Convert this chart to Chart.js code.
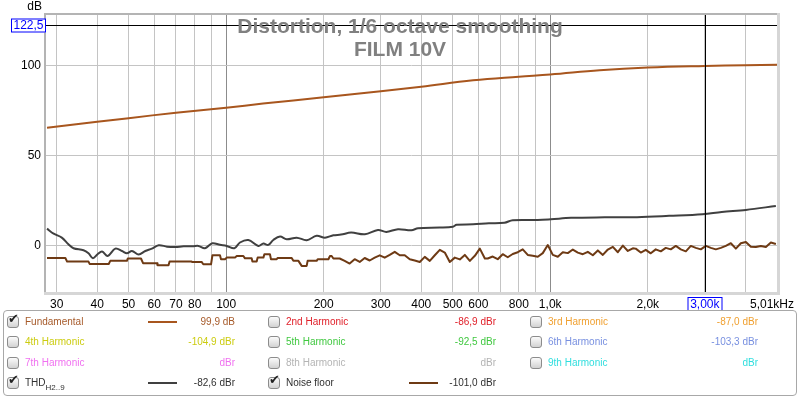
<!DOCTYPE html>
<html>
<head>
<meta charset="utf-8">
<script src="https://cdn.jsdelivr.net/npm/chart.js@4.4.1/dist/chart.umd.min.js"></script>
<style>
  body { margin: 0; background: #fff; font-family: "Liberation Sans", Arial, sans-serif; }
  #wrap { position: relative; width: 800px; height: 398px; overflow: hidden; }
  #chart { position: absolute; left: 0; top: 0; }
  #legend { position: absolute; left: 3px; top: 310px; width: 794px; height: 86px; border: 1px solid #a8a8a8; border-radius: 4px; box-sizing: border-box; background: #fff; }
  .item { position: absolute; width: 240px; height: 12px; font-size: 10px; line-height: 12px; white-space: nowrap; }
  .box { position: absolute; left: 0; top: 0; width: 10px; height: 10px; border: 1px solid #8c8c8c; border-radius: 3px; background: linear-gradient(#fbfbfb, #d2d2d2); }
  .box span { position: absolute; left: 0px; top: -4px; font-size: 13px; font-weight: bold; color: #222; font-family: "DejaVu Sans", sans-serif; }
  .name { position: absolute; left: 18px; top: 0; }
  .name sub { font-size: 8px; vertical-align: -4px; }
  .sample { position: absolute; left: 141px; top: 5px; width: 29px; height: 2px; }
  .val { position: absolute; left: 100px; width: 128px; top: 0; text-align: right; }
</style>
</head>
<body>
<div id="wrap">
  <canvas id="chart" width="800" height="311"></canvas>
  <div id="legend"></div>
</div>
<script>
// Title and cursor
const titleLines = ['Distortion, 1/6 octave smoothing', 'FILM 10V'];
const cursorFreq = 3000;
const cursorDb = 122.5;

// Axis ticks
const xTicks = [30, 40, 50, 60, 70, 80, 90, 100, 200, 300, 400, 500, 600, 700, 800, 900, 1000, 2000, 3000, 4000, 5010];
const xTickLabels = ['30', '40', '50', '60', '70', '80', '', '100', '200', '300', '400', '500', '600', '', '800', '', '1,0k', '2,0k', '3,00k', '', ''];
const yTicks = [0, 50, 100];

// Fundamental (dB)
const fundFreq = [28, 40, 50, 70, 100, 130, 200, 300, 400, 578, 800, 1000, 1421, 2000, 3000, 4000, 5010];
const fundDb = [65.7, 69.0, 71.0, 74.0, 76.8, 79.1, 82.6, 86.0, 88.5, 92.0, 94.0, 95.2, 97.6, 99.1, 100.0, 100.4, 100.6];

// THD H2..9
const thdFreq = [28, 29.35, 31.1, 32.6, 33.8, 36.3, 37.6, 38.8, 40.1, 41.4, 43.1, 45.5, 47.7, 49.4, 51.2, 53.7, 56.3, 59.0, 61.9, 65.7, 69.7, 73.9, 79.0,
  82.1, 86.0, 90.6, 95.7, 100.4, 106, 110.3, 117.1, 125.7, 130.3, 134.9, 139.8, 146.6, 153.7, 165.1, 177.2, 190.2, 201.8, 214.2, 226.2,
  243, 268, 294, 312, 339, 373, 391, 456, 501, 514, 578, 647, 722, 766, 915, 1005, 1160, 1472, 1853, 2327, 2953, 3383, 4015, 4970];
const thdDb = [9.6, 6.8, 4.6, 0.9, -1.3, -2.4, -4.1, -6.8, -4.6, -3.1, -5.6, -1.5, -2.8, -4.1, -2.8, -4.8, -2.8, -1.5, 0.4, -0.4, -0.6, -0.2, -0.2,
  0, -1.3, 1.5, 0.6, 0, -1.3, 1.9, 3.3, 0, 1.3, 0.6, 3.3, 5.2, 3.7, 4.6, 3.2, 5.6, 4.6, 5.9, 6.3,
  7.4, 6.5, 8.9, 7.8, 9.3, 8.7, 9.8, 10.2, 10.7, 11.7, 12.0, 12.6, 12.9, 14.3, 14.4, 14.8, 15.6, 15.9, 16.0, 16.7, 17.6, 18.9, 20.0, 22.2];

// Noise floor
const noiseFreq = [28, 31.9, 32.3, 37.6, 37.9, 43.4, 43.9, 49.4, 49.7, 54.6, 55.4, 61.2, 61.4, 66.4, 66.9, 78.2,
  78.5, 84.0, 85.0, 89.8, 90.7, 95.7, 96.4, 99.2, 100.4, 106.5, 107.8, 113.0, 114.3, 119.9, 120.5, 124.2, 125.1, 130.3,
  131.2, 136.5, 137.5, 143.2, 144.2, 159.3, 161.2, 167.1, 171.0, 177.2, 178.4, 190.2, 191.6, 206.8, 209.1, 211.6, 214.2,
  224, 232.1, 240.5, 249.2, 258.3, 267.6, 277.3, 287.4, 297.8, 308.5, 319.7, 331.3, 343.3, 355.7, 368.6, 381.9, 395.8, 410.1,
  425.0, 440.4, 456.3, 472.8, 489.9, 507.7, 526.1, 545.1, 564.9, 585.3, 606.5, 628.5,
  641.4, 664.6, 688.7, 713.6, 739.5, 766.2, 794.0, 822.7, 852.5, 883.4, 915.4, 948.5, 982.9, 1018.5, 1055.4, 1093.6, 1133.2,
  1174.2, 1216.7, 1260.8, 1306.4, 1353.7, 1402.7, 1453.5, 1506.1, 1560.6, 1617.1, 1675.6, 1736.3, 1799.2,
  1836, 1903, 1972, 2043, 2117, 2194, 2273, 2355, 2441, 2529, 2621, 2716, 2814, 2916, 3021, 3131, 3244, 3361, 3483,
  3609, 3740, 3875, 4015, 4161, 4311, 4467, 4629, 4797, 4970];
const noiseDb = [-6.7, -6.7, -8.7, -8.7, -10, -10, -8.3, -8.3, -7.0, -7.0, -9.6, -9.6, -10.7, -10.7, -8.7, -8.7,
  -8.9, -8.9, -10.2, -10.2, -5.2, -5.2, -7.4, -7.4, -6.5, -6.5, -5.6, -5.6, -6.9, -6.9, -8.7, -8.7, -6.5, -6.5,
  -4.6, -4.6, -7.4, -7.4, -6.7, -6.7, -8.3, -8.3, -11.1, -11.1, -8.3, -8.3, -7.4, -7.4, -5.6, -5.6, -7.0,
  -7.0, -8.3, -9.8, -7.4, -8.9, -6.7, -8.1, -6.5, -5.2, -6.5, -5.0, -3.3, -5.2, -5.2, -7.4, -8.1, -8.9, -6.1,
  -8.3, -5.2, -2.2, -3.7, -8.9, -6.5, -7.5, -5.0, -8.3, -5.5, -1.5, -7.0,
  -7.0, -5.9, -7.4, -4.6, -6.3, -4.5, -3.5, -1.9, -5.0, -5.5, -6.0, -4.0, 0.5, -5.0, -6.0, -3.5, -4.0,
  -2.0, -3.7, -4.6, -3.3, -5.2, -2.5, -5.0, -2.0, -0.5, -3.5, 0.2, -2.8, -1.3,
  -1.5, -3.7, -2.2, -4.1, -1.9, -3.0, -1.1, -1.9, 0, -1.9, -3.0, 0, -1.1, -1.9, 0, -1.1, -1.9, -1.1, 0,
  1.5, -1.5, 1.5, 2.2, -0.4, -0.6, 0, -0.6, 1.9, 1.1];

// Legend
const legendNames = ['Fundamental', '2nd Harmonic', '3rd Harmonic', '4th Harmonic', '5th Harmonic', '6th Harmonic',
  '7th Harmonic', '8th Harmonic', '9th Harmonic', 'THD', 'Noise floor'];
const legendValues = ['99,9 dB', '-86,9 dBr', '-87,0 dBr', '-104,9 dBr', '-92,5 dBr', '-103,3 dBr', 'dBr', 'dBr', 'dBr', '-82,6 dBr', '-101,0 dBr'];
const legendColors = ['#a65a2a', '#e0202a', '#f0a030', '#cccc10', '#40c840', '#7890e0', '#f070f0', '#b4b4b4', '#30dede', '#303030', '#303030'];
const legendChecked = [true, false, false, false, false, false, false, false, false, true, true];

const fundColor = '#a8561e';
const thdColor = '#404040';
const noiseColor = '#6e3a14';

const toPoints = (fs, vs) => fs.map((f, i) => ({ x: f, y: vs[i] }));
const font = '"Liberation Sans", Arial, sans-serif';

const overlay = {
  id: 'overlay',
  afterDraw(chart) {
    const { ctx, chartArea: a, scales: { x, y } } = chart;
    ctx.save();
    // cursor lines
    const cx = Math.round(x.getPixelForValue(cursorFreq)) + 0.5;
    const cy = Math.round(y.getPixelForValue(cursorDb)) + 0.5;
    ctx.strokeStyle = '#000';
    ctx.lineWidth = 1;
    ctx.beginPath();
    ctx.moveTo(a.left, cy); ctx.lineTo(a.right, cy);
    ctx.moveTo(cx, a.top); ctx.lineTo(cx, a.bottom);
    ctx.stroke();

    // plot frame
    ctx.strokeStyle = '#b4b4b4';
    ctx.lineWidth = 2;
    ctx.beginPath();
    ctx.moveTo(a.left - 1, a.bottom); ctx.lineTo(a.left - 1, a.top - 1); ctx.lineTo(a.right, a.top - 1);
    ctx.stroke();
    ctx.strokeStyle = '#d6d6d6';
    ctx.lineWidth = 3;
    ctx.beginPath();
    ctx.moveTo(a.right + 1.5, a.top - 2); ctx.lineTo(a.right + 1.5, a.bottom + 1.5); ctx.lineTo(a.left - 2, a.bottom + 1.5);
    ctx.stroke();

    // title
    ctx.fillStyle = '#808080';
    ctx.font = 'bold 21px ' + font;
    ctx.textAlign = 'center';
    ctx.textBaseline = 'alphabetic';
    ctx.fillText(titleLines[0], 400, 33);
    ctx.fillText(titleLines[1], 400, 56);

    // axis unit
    ctx.fillStyle = '#000';
    ctx.font = '12px ' + font;
    ctx.textAlign = 'right';
    ctx.fillText('dB', 42, 10);

    // cursor readouts
    ctx.strokeStyle = '#0000ff';
    ctx.lineWidth = 1;
    ctx.textAlign = 'center';
    ctx.textBaseline = 'middle';
    ctx.fillStyle = '#fff';
    ctx.fillRect(11, cy - 6, 35, 13);
    ctx.strokeRect(11.5, cy - 6.5, 34, 13);
    ctx.fillStyle = '#0000ff';
    ctx.fillText(String(cursorDb).replace('.', ','), 28.5, cy + 0.5);
    ctx.strokeRect(cx - 17.5, a.bottom + 5.5, 34, 13);

    // right-hand frequency label with unit
    const last = xTicks[xTicks.length - 1];
    ctx.fillStyle = '#000';
    ctx.textAlign = 'left';
    ctx.fillText((last / 1000).toFixed(2).replace('.', ',') + 'kHz', x.getPixelForValue(last) - 27, a.bottom + 12.5);
    ctx.restore();
  }
};

new Chart(document.getElementById('chart').getContext('2d'), {
  type: 'line',
  data: {
    datasets: [
      { label: 'Fundamental', data: toPoints(fundFreq, fundDb), borderColor: fundColor, borderWidth: 2, pointRadius: 0, tension: 0.4, borderJoinStyle: 'round' },
      { label: 'THD', data: toPoints(thdFreq, thdDb), borderColor: thdColor, borderWidth: 2, pointRadius: 0, tension: 0.35, borderJoinStyle: 'round' },
      { label: 'Noise floor', data: toPoints(noiseFreq, noiseDb), borderColor: noiseColor, borderWidth: 2, pointRadius: 0, tension: 0, borderJoinStyle: 'round' }
    ]
  },
  options: {
    responsive: false,
    animation: false,
    devicePixelRatio: 1,
    layout: { padding: { top: 15, right: 23, bottom: 0, left: 0 } },
    plugins: { legend: { display: false }, title: { display: false }, tooltip: { enabled: false } },
    scales: {
      x: {
        type: 'logarithmic',
        min: 27.8,
        max: 5010,
        afterBuildTicks: axis => { axis.ticks = xTicks.map(v => ({ value: v })); },
        afterFit: axis => { axis.height = 19; },
        border: { display: false },
        grid: {
          drawTicks: false,
          color: c => (c.tick && (c.tick.value === 100 || c.tick.value === 1000)) ? '#8c8c8c' : '#c4c4c4'
        },
        ticks: {
          autoSkip: false,
          maxRotation: 0,
          padding: 5,
          font: { family: font, size: 12 },
          color: c => (c.tick && c.tick.value === cursorFreq) ? '#0000ff' : '#000',
          callback: v => { const i = xTicks.indexOf(v); return i >= 0 ? xTickLabels[i] : ''; }
        }
      },
      y: {
        min: -25.6,
        max: 128.3,
        afterBuildTicks: axis => { axis.ticks = yTicks.map(v => ({ value: v })); },
        afterFit: axis => { axis.width = 46; },
        border: { display: false },
        grid: { drawTicks: false, color: '#c4c4c4' },
        ticks: { padding: 5, font: { family: font, size: 12 }, color: '#000' }
      }
    }
  },
  plugins: [overlay]
});

// HTML legend
const legend = document.getElementById('legend');
const colX = [3, 264, 526];
const rowY = [5, 25, 46, 66];
legendNames.forEach((name, i) => {
  const row = Math.floor(i / 3), col = i % 3;
  const el = document.createElement('div');
  el.className = 'item';
  el.style.left = colX[col] + 'px';
  el.style.top = rowY[row] + 'px';
  const box = document.createElement('div');
  box.className = 'box';
  if (legendChecked[i]) box.innerHTML = '<span>\u2714</span>';
  el.appendChild(box);
  const nm = document.createElement('div');
  nm.className = 'name';
  nm.style.color = legendColors[i];
  nm.textContent = name;
  if (name === 'THD') {
    const sub = document.createElement('sub');
    sub.textContent = 'H2..9';
    nm.appendChild(sub);
  }
  el.appendChild(nm);
  if (legendChecked[i]) {
    const s = document.createElement('div');
    s.className = 'sample';
    s.style.background = [fundColor, thdColor, noiseColor][[0, 9, 10].indexOf(i)];
    el.appendChild(s);
  }
  const v = document.createElement('div');
  v.className = 'val';
  v.style.color = legendColors[i];
  v.textContent = legendValues[i];
  el.appendChild(v);
  legend.appendChild(el);
});
</script>
</body>
</html>
